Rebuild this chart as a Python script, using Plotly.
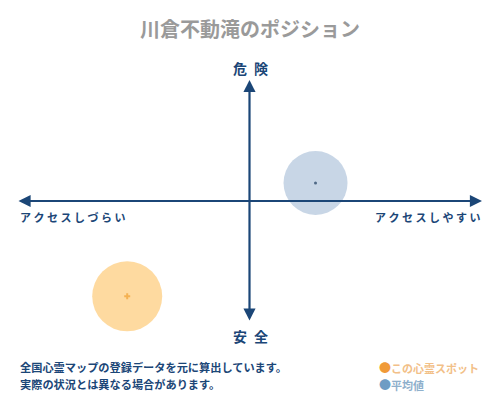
import plotly.graph_objects as go

# ── data ─────────────────────────────────────────────────────────────────────
TITLE = "川倉不動滝のポジション"
SERIES = ["この心霊スポット", "平均値"]
ACCESS = [-0.526, 0.284]      # x: アクセスしづらい (-1) … アクセスしやすい (+1)
DANGER = [-0.788, 0.149]      # y: 安全 (-1) … 危険 (+1)
SIZES = [70, 64]
NOTES = ["全国心霊マップの登録データを元に算出しています。",
         "実際の状況とは異なる場合があります。"]

FILL = ["#fecb78", "#b1c4db"]
DOT = ["#f0a030", "#1b3a5c"]
LEGEND_DOT = ["#f09a38", "#6f9cc4"]
LEGEND_TXT = ["#f2c088", "#8fb0cc"]
NAVY = "#1b4677"
FONT = "Noto Sans CJK JP"

# the page puts the plot 8px in from the top-left corner
OFF = 8

fig = go.Figure()

# big translucent circles
fig.add_trace(go.Scatter(
    x=ACCESS, y=DANGER, mode="markers", cliponaxis=False,
    marker=dict(size=SIZES, color=FILL, line=dict(width=0)),
    hoverinfo="skip", showlegend=False,
))
# small centre dots
fig.add_trace(go.Scatter(
    x=ACCESS, y=DANGER, mode="markers", cliponaxis=False,
    marker=dict(size=[5, 3], color=DOT, symbol=["cross", "circle"], line=dict(width=0)),
    hoverinfo="skip", showlegend=False,
))

annotations = [
    # horizontal axis arrow
    dict(x=1, y=0, ax=-1, ay=0, xref="x", yref="y", axref="x", ayref="y",
         text="", showarrow=True, arrowhead=2, startarrowhead=2,
         arrowside="end+start", arrowsize=1.1, arrowwidth=2.2, arrowcolor=NAVY),
    # vertical axis arrow
    dict(x=0, y=1, ax=0, ay=-1, xref="x", yref="y", axref="x", ayref="y",
         text="", showarrow=True, arrowhead=2, startarrowhead=2,
         arrowside="end+start", arrowsize=1.1, arrowwidth=2.2, arrowcolor=NAVY),
    dict(x=250, y=68, text="<b>危\u2002険</b>", showarrow=False,
         font=dict(family=FONT, size=14, color=NAVY)),
    dict(x=250, y=336, text="<b>安\u2002全</b>", showarrow=False,
         font=dict(family=FONT, size=14, color=NAVY)),
    dict(x=18, y=217, text="<b>ア ク セ ス し づ ら い</b>", showarrow=False, xanchor="left",
         font=dict(family=FONT, size=11, color=NAVY)),
    dict(x=482, y=217, text="<b>ア ク セ ス し や す い</b>", showarrow=False, xanchor="right",
         font=dict(family=FONT, size=11, color=NAVY)),
    dict(x=18, y=367, text="<b>" + NOTES[0] + "</b>", showarrow=False, xanchor="left",
         font=dict(family=FONT, size=11.2, color=NAVY)),
    dict(x=18, y=384, text="<b>" + NOTES[1] + "</b>", showarrow=False, xanchor="left",
         font=dict(family=FONT, size=11.2, color=NAVY)),
]

# legend drawn as text so the dots stay small
for i, name in enumerate(SERIES):
    annotations.append(dict(
        x=377, y=367 + 17 * i, xanchor="left", showarrow=False,
        text=f"<span style='color:{LEGEND_DOT[i]};font-size:12px'>●</span><b>{name}</b>",
        font=dict(family=FONT, size=11, color=LEGEND_TXT[i]),
    ))

# plot area in screen pixels, then shifted back by the page offset
W, H = 500, 400
L, T = 17 - OFF, 80 - OFF
R, B = W - (482 - OFF), H - (322 - OFF)
for a in annotations:
    if a.get("xref") == "x":
        continue
    px, py = a["x"] - OFF, a["y"] - OFF
    a["xref"], a["yref"] = "paper", "paper"
    a["x"] = (px - L) / (W - L - R)
    a["y"] = 1 - (py - T) / (H - T - B)
    a["yanchor"] = "middle"

fig.update_layout(
    width=W, height=H,
    margin=dict(l=L, r=R, t=T, b=B),
    paper_bgcolor="white", plot_bgcolor="white",
    title=dict(text="<b>" + TITLE + "</b>", x=(250 - OFF) / W, y=1 - (30 - OFF) / H,
               xanchor="center", yanchor="middle",
               font=dict(family=FONT, size=20, color="#9a9a9a")),
    xaxis=dict(range=[-1, 1], visible=False, fixedrange=True),
    yaxis=dict(range=[-1, 1], visible=False, fixedrange=True),
    annotations=annotations,
    showlegend=False,
)

fig.write_html("out.html")
